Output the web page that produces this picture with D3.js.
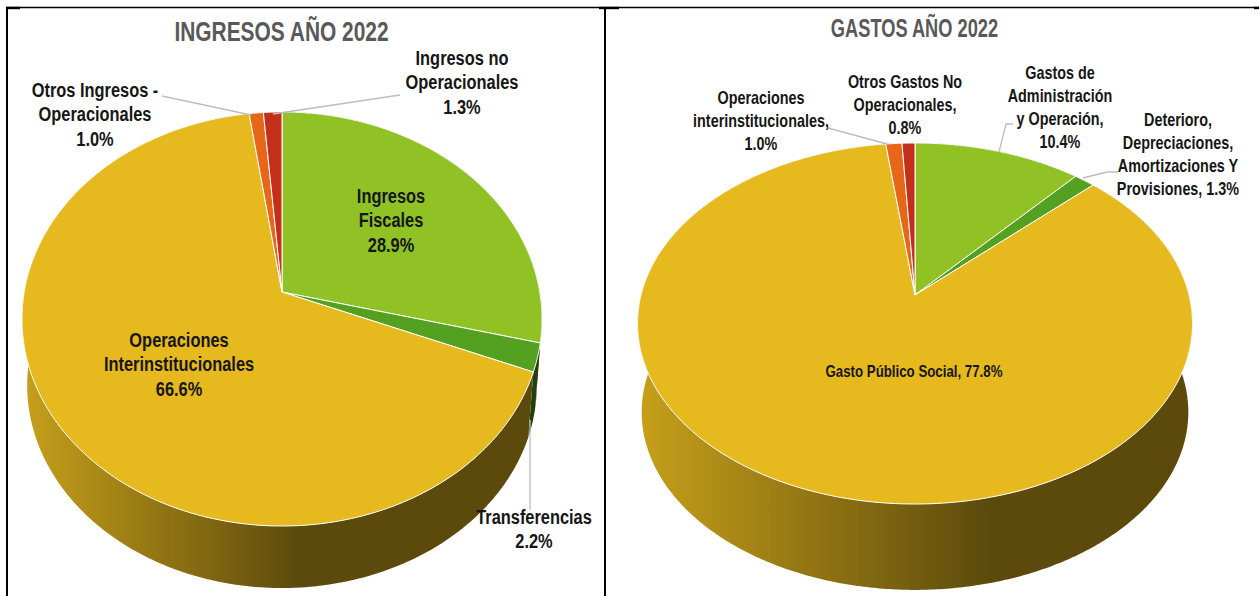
<!DOCTYPE html>
<html>
<head>
<meta charset="utf-8">
<title>Ingresos y gastos 2022</title>
<script src="https://cdn.jsdelivr.net/npm/d3@7"></script>
<style>
  html, body { margin: 0; padding: 0; background: #fff; overflow: hidden; }
  text { font-family: "Liberation Sans", Arial, sans-serif; font-weight: 700; text-anchor: middle; fill: #161616; }
  .title { fill: #595959; }
</style>
</head>
<body>
<svg id="chart" width="1259" height="596"></svg>
<script>
// Chart values
const ingresosCategorias = ["Ingresos Fiscales", "Transferencias", "Operaciones Interinstitucionales", "Otros Ingresos - Operacionales", "Ingresos no Operacionales"];
const ingresosValores = [28.9, 2.2, 66.6, 1.0, 1.3];
// The labels of this pie add up to 91.3, d3.pie normalises them the same way the original did
const gastosCategorias = ["Gastos de Administración y Operación", "Deterioro, Depreciaciones, Amortizaciones Y Provisiones", "Gasto Público Social", "Operaciones interinstitucionales", "Otros Gastos No Operacionales"];
const gastosValores = [10.4, 1.3, 77.8, 1.0, 0.8];
const sliceColors = ["#90C226", "#54A021", "#E6B91E", "#E76618", "#C42F1A"];

const svg = d3.select("#chart");
const defs = svg.append("defs");

// Perspective view of a disc: apex at (cx, cy), b and a are the half axes, k the tilt
function discPoint(disc, angle) {
  const u = Math.sin(angle);
  const v = -Math.cos(angle);
  const w = 1 - disc.k * v;
  return [disc.cx + (disc.b * u) / w, disc.cy + (disc.a * v) / w];
}

function arcPoints(disc, start, end) {
  const steps = Math.max(2, Math.ceil((end - start) / 0.01));
  return d3.range(steps + 1).map((i) => discPoint(disc, start + ((end - start) * i) / steps));
}

const line = d3.line();

// Only a narrow bold face looks right here, none is installed so squeeze the regular one
function drawText(g, x, y, lines, size, lead, squeeze, cls) {
  const t = g
    .append("text")
    .attr("class", cls || null)
    .attr("font-size", size)
    .attr("transform", `translate(${x},${y}) scale(${squeeze},1)`);
  lines.forEach((str, i) => {
    t.append("tspan").attr("x", 0).attr("y", i * lead).text(str);
  });
}

function drawPie(cfg) {
  const g = svg.append("g");
  const top = cfg.top;
  // lower rim of the wall, a bit smaller than the top
  const bottom = {
    cx: top.cx,
    cy: top.cy + cfg.depth,
    a: top.a * cfg.shrink,
    b: top.b * cfg.shrink,
    k: top.k
  };

  const slices = d3.pie().sort(null).value((d) => d)(cfg.values);

  // Wall shading goes from lit on the left to dark
  slices.forEach((s, i) => {
    const id = `${cfg.id}-wall-${i}`;
    const c = d3.rgb(sliceColors[i]);
    const grad = defs
      .append("linearGradient")
      .attr("id", id)
      .attr("gradientUnits", "userSpaceOnUse")
      .attr("x1", cfg.gradFrom)
      .attr("x2", cfg.gradTo)
      .attr("y1", 0)
      .attr("y2", 0);
    grad.append("stop").attr("offset", 0).attr("stop-color", d3.rgb(c.r * 0.86, c.g * 0.86, c.b * 0.86));
    grad.append("stop").attr("offset", 1).attr("stop-color", d3.rgb(c.r * 0.4, c.g * 0.4, c.b * 0.4));

    const upper = arcPoints(top, s.startAngle, s.endAngle);
    const lower = arcPoints(bottom, s.startAngle, s.endAngle).reverse();
    g.append("path")
      .attr("d", line(upper.concat(lower)) + "Z")
      .attr("fill", `url(#${id})`);
  });

  // Top surface
  g.selectAll("path.top")
    .data(slices)
    .join("path")
    .attr("class", "top")
    .attr("d", (s) => line([[top.cx, top.cy]].concat(arcPoints(top, s.startAngle, s.endAngle))) + "Z")
    .attr("fill", (s, i) => sliceColors[i])
    .attr("stroke", "#fff")
    .attr("stroke-width", 1)
    .attr("stroke-linejoin", "round");

  // Leader lines
  g.selectAll("path.leader")
    .data(cfg.leaders)
    .join("path")
    .attr("class", "leader")
    .attr("d", (d) => line(d))
    .attr("fill", "none")
    .attr("stroke", "#bdbdbd")
    .attr("stroke-width", 1.3);

  // Title and labels
  drawText(g, top.cx - 0.5, cfg.titleY, [cfg.title], cfg.titleSize, 0, cfg.titleSqueeze, "title");
  cfg.labels.forEach((l) => {
    drawText(g, l.x, l.y, l.lines, l.size || cfg.labelSize, cfg.labelLead, l.squeeze || cfg.labelSqueeze);
  });
}

drawPie({
  id: "ingresos",
  title: "INGRESOS AÑO 2022",
  titleY: 41,
  titleSize: 27,
  titleSqueeze: 0.775,
  values: ingresosValores,
  top: { cx: 282, cy: 292, a: 203.5, b: 257.8, k: 0.1304 },
  depth: 66.7,
  shrink: 0.98,
  gradFrom: 25,
  gradTo: 300,
  labelSize: 20.5,
  labelSqueeze: 0.8,
  labelLead: 24.3,
  labels: [
    { x: 391, y: 203, lines: ["Ingresos", "Fiscales", "28.9%"] },
    { x: 179, y: 347, lines: ["Operaciones", "Interinstitucionales", "66.6%"] },
    { x: 534, y: 524, lines: ["Transferencias", "2.2%"] },
    { x: 95, y: 97, lines: ["Otros Ingresos -", "Operacionales", "1.0%"] },
    { x: 462, y: 65, lines: ["Ingresos no", "Operacionales", "1.3%"] }
  ],
  leaders: [
    [[162, 96], [251, 115]],
    [[400, 95], [273, 114]],
    [[530, 420], [530, 510]]
  ]
});

drawPie({
  id: "gastos",
  title: "GASTOS AÑO 2022",
  titleY: 37,
  titleSize: 25,
  titleSqueeze: 0.73,
  values: gastosValores,
  top: { cx: 915, cy: 295, a: 176, b: 274, k: 0.158 },
  depth: 89,
  shrink: 0.985,
  gradFrom: 640,
  gradTo: 990,
  labelSize: 19,
  labelSqueeze: 0.757,
  labelLead: 23,
  labels: [
    { x: 1060, y: 79, lines: ["Gastos de", "Administración", "y Operación,", "10.4%"] },
    { x: 1178, y: 126, lines: ["Deterioro,", "Depreciaciones,", "Amortizaciones Y", "Provisiones, 1.3%"] },
    { x: 914, y: 377, size: 16, squeeze: 0.83, lines: ["Gasto Público Social, 77.8%"] },
    { x: 761, y: 104, lines: ["Operaciones", "interinstitucionales,", "1.0%"] },
    { x: 905, y: 88, lines: ["Otros Gastos No", "Operacionales,", "0.8%"] }
  ],
  leaders: [
    [[828, 128], [887, 144]],
    [[1013, 124], [1006, 124], [999, 152]],
    [[1118, 172], [1107, 172], [1083, 178]]
  ]
});

// Table borders around the two charts
const borders = [
  [6, 7.5, 1259, 7.5, 1.3],
  [6, 8, 20, 8, 2.4],
  [599, 8, 619, 8, 2.4],
  [1254, 8, 1259, 8, 2.4],
  [7, 7, 7, 596, 2],
  [605, 7, 605, 596, 2]
];
svg.selectAll("line.border")
  .data(borders)
  .join("line")
  .attr("class", "border")
  .attr("x1", (d) => d[0])
  .attr("y1", (d) => d[1])
  .attr("x2", (d) => d[2])
  .attr("y2", (d) => d[3])
  .attr("stroke-width", (d) => d[4])
  .attr("stroke", "#000");
</script>
</body>
</html>
